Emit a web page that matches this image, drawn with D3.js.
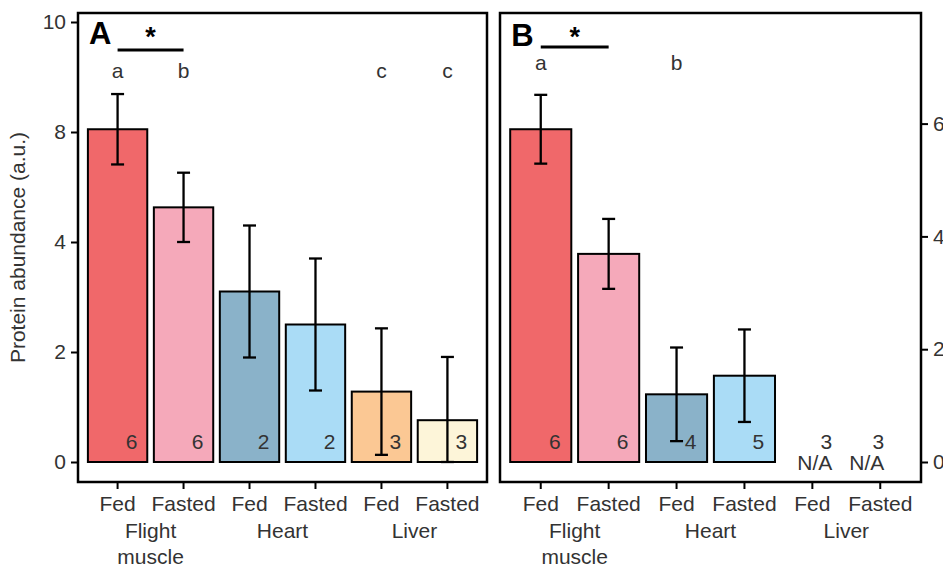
<!DOCTYPE html>
<html>
<head>
<meta charset="utf-8">
<script src="https://cdn.jsdelivr.net/npm/d3@7"></script>
<style>
  body { margin: 0; background: #fff; }
  svg text { font-family: "Liberation Sans", Arial, sans-serif; fill: #333; }
</style>
</head>
<body>
<svg id="chart" width="943" height="567"></svg>
<script>
/*------------------------
  -------- DATA ---------
  ------------------------*/

var conditions = ["Fed", "Fasted", "Fed", "Fasted", "Fed", "Fasted"];
var tissue_idx = [0, 0, 1, 1, 2, 2];
var tissues = [["Flight", "muscle"], ["Heart"], ["Liver"]];

// panel A
var mean_a = [6.05, 4.63, 3.10, 2.50, 1.28, 0.76];
var se_a = [0.64, 0.63, 1.20, 1.20, 1.15, 1.15];
var n_a = [6, 6, 2, 2, 3, 3];
var letters_a = ["a", "b", "", "", "c", "c"];
var ticks_a = [0, 2, 4, 6, 8];
var tick_labels_a = ["0", "2", "4", "8", "10"];

// panel B (liver not available)
var mean_b = [5.90, 3.69, 1.20, 1.53, null, null];
var se_b = [0.61, 0.62, 0.83, 0.82, null, null];
var n_b = [6, 6, 4, 5, 3, 3];
var letters_b = ["a", "", "b", "", "", ""];
var ticks_b = [0, 2, 4, 6];
var tick_labels_b = ["0", "2", "4", "6"];

var sig_pair = [0, 1];

var fills = ["#f0686a", "#f5a9ba", "#8ab2c9", "#aadcf6", "#fbc894", "#fdf5d9"];

/*------------------------
  ------- PANELS --------
  ------------------------*/

var svg = d3.select("#chart");
var top_y = 13, bottom_y = 482;
var fs = "21px";

var panels = [
    {
        tag: "A", x0: 78, x1: 487, ymax: 8, ytop: 22,
        mean: mean_a, se: se_a, n: n_a, letters: letters_a, letter_y: 78,
        ticks: ticks_a, tick_labels: tick_labels_a, axis_side: "left",
        sig_y: 50, tag_y: 44, n_dx: [14, 14, 14, 14, 14, 14]
    },
    {
        tag: "B", x0: 500, x1: 921, ymax: 6, ytop: 123.6,
        mean: mean_b, se: se_b, n: n_b, letters: letters_b, letter_y: 70,
        ticks: ticks_b, tick_labels: tick_labels_b, axis_side: "right",
        sig_y: 47, tag_y: 46, n_dx: [14, 14, 14, 14, 14, -2]
    }
];

panels.forEach(draw_panel);

// y axis title
svg.append("text")
    .attr("transform", "translate(25," + (top_y + bottom_y) / 2 + ") rotate(-90)")
    .attr("text-anchor", "middle")
    .style("font-size", fs)
    .text("Protein abundance (a.u.)");


function draw_panel(p) {
    var idx = d3.range(conditions.length);

    var x = d3.scaleBand()
        .domain(idx)
        .range([p.x0, p.x1])
        .paddingInner(0.1)
        .paddingOuter(0.15);

    var y = d3.scaleLinear()
        .domain([0, p.ymax])
        .range([462, p.ytop]);

    var g = svg.append("g").attr("class", "panel");
    var mid = function(i) { return x(i) + x.bandwidth() / 2; };
    var n_x = function(i) { return mid(i) + p.n_dx[i]; };

    // bars
    var has = idx.filter(function(i) { return p.mean[i] != null; });

    g.selectAll(".bar")
        .data(has)
        .enter()
        .append("rect")
        .attr("class", "bar")
        .attr("x", function(i) { return x(i); })
        .attr("y", function(i) { return y(p.mean[i]); })
        .attr("width", x.bandwidth())
        .attr("height", function(i) { return y(0) - y(p.mean[i]); })
        .attr("fill", function(i) { return fills[i]; })
        .attr("stroke", "#000")
        .attr("stroke-width", 2);

    // error bars
    var eb = g.selectAll(".err")
        .data(has)
        .enter()
        .append("g")
        .attr("class", "err")
        .attr("stroke", "#000")
        .attr("stroke-width", 2.3);

    var lo = function(i) { return y(Math.max(0, p.mean[i] - p.se[i])); };
    var hi = function(i) { return y(p.mean[i] + p.se[i]); };

    eb.append("line")
        .attr("x1", mid).attr("x2", mid)
        .attr("y1", lo).attr("y2", hi);
    eb.append("line")
        .attr("x1", function(i) { return mid(i) - 6.5; })
        .attr("x2", function(i) { return mid(i) + 6.5; })
        .attr("y1", hi).attr("y2", hi);
    eb.append("line")
        .attr("x1", function(i) { return mid(i) - 6.5; })
        .attr("x2", function(i) { return mid(i) + 6.5; })
        .attr("y1", lo).attr("y2", lo);

    // sample sizes
    g.selectAll(".n")
        .data(idx)
        .enter()
        .append("text")
        .attr("class", "n")
        .attr("x", n_x)
        .attr("y", 449)
        .attr("text-anchor", "middle")
        .style("font-size", fs)
        .text(function(i) { return p.n[i]; });

    // N/A markers, right-aligned under the n label
    g.selectAll(".na")
        .data(idx.filter(function(i) { return p.mean[i] == null; }))
        .enter()
        .append("text")
        .attr("x", function(i) { return n_x(i) + 6; })
        .attr("y", 470)
        .attr("text-anchor", "end")
        .style("font-size", fs)
        .text("N/A");

    // group letters
    g.selectAll(".letter")
        .data(idx)
        .enter()
        .append("text")
        .attr("x", mid)
        .attr("y", p.letter_y)
        .attr("text-anchor", "middle")
        .style("font-size", fs)
        .text(function(i) { return p.letters[i]; });

    // significance bar
    g.append("line")
        .attr("x1", mid(sig_pair[0]))
        .attr("x2", mid(sig_pair[1]))
        .attr("y1", p.sig_y).attr("y2", p.sig_y)
        .attr("stroke", "#000")
        .attr("stroke-width", 3);
    g.append("text")
        .attr("x", (mid(sig_pair[0]) + mid(sig_pair[1])) / 2)
        .attr("y", 46)
        .attr("text-anchor", "middle")
        .style("font-size", "27px")
        .style("font-weight", "bold")
        .style("fill", "#000")
        .text("*");

    // panel tag
    g.append("text")
        .attr("x", x(0) + 1)
        .attr("y", p.tag_y)
        .style("font-size", "31px")
        .style("font-weight", "bold")
        .style("fill", "#000")
        .text(p.tag);

    // x axis
    var xa = g.append("g")
        .attr("transform", "translate(0," + bottom_y + ")")
        .call(d3.axisBottom(x)
            .tickFormat(function(i) { return conditions[i]; })
            .tickSize(7)
            .tickPadding(7));
    style_axis(xa);

    // tissue labels
    tissues.forEach(function(lines, t) {
        var members = idx.filter(function(i) { return tissue_idx[i] == t; });
        var cx = d3.mean(members, mid);
        lines.forEach(function(s, k) {
            g.append("text")
                .attr("x", cx)
                .attr("y", 538 + k * 26)
                .attr("text-anchor", "middle")
                .style("font-size", fs)
                .text(s);
        });
    });

    // y axis
    var ya;
    if (p.axis_side == "left") {
        ya = g.append("g")
            .attr("transform", "translate(" + p.x0 + ",0)")
            .call(d3.axisLeft(y)
                .tickValues(p.ticks)
                .tickFormat(function(d, i) { return p.tick_labels[i]; })
                .tickSize(7)
                .tickPadding(5));
    } else {
        ya = g.append("g")
            .attr("transform", "translate(" + p.x1 + ",0)")
            .call(d3.axisRight(y)
                .tickValues(p.ticks)
                .tickFormat(function(d, i) { return p.tick_labels[i]; })
                .tickSize(7)
                .tickPadding(5));
    }
    style_axis(ya);

    // frame
    g.append("rect")
        .attr("x", p.x0)
        .attr("y", top_y)
        .attr("width", p.x1 - p.x0)
        .attr("height", bottom_y - top_y)
        .attr("fill", "none")
        .attr("stroke", "#000")
        .attr("stroke-width", 2.5);
}

function style_axis(a) {
    a.select(".domain").remove();
    a.selectAll(".tick line")
        .attr("stroke", "#000")
        .attr("stroke-width", 2);
    a.selectAll(".tick text")
        .style("font-size", fs)
        .style("font-family", "'Liberation Sans', Arial, sans-serif")
        .attr("fill", "#333");
}
</script>
</body>
</html>
